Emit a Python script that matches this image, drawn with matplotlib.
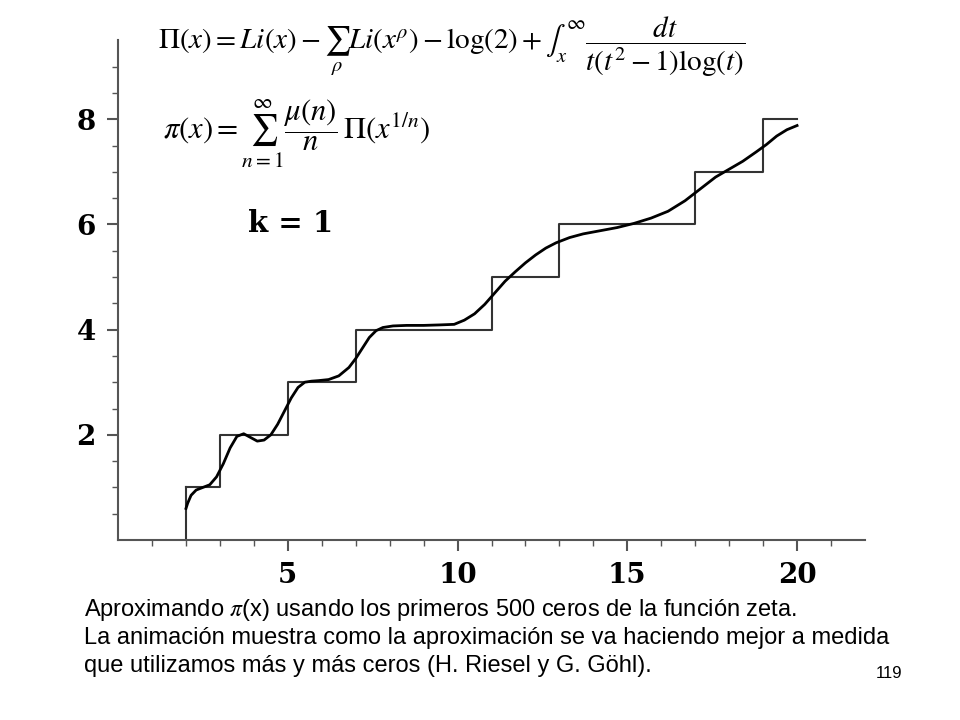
import matplotlib
matplotlib.use("Agg")
import matplotlib.pyplot as plt
import numpy as np
plt.rcParams['mathtext.fontset'] = 'stix'

step_x = [2, 3, 5, 7, 11, 13, 17, 19, 20]
step_y = [1, 2, 3, 4, 5, 6, 7, 8, 8]
curve_x = [2.0, 2.05, 2.15, 2.3, 2.5, 2.7, 2.9, 3.1, 3.3, 3.5, 3.7, 3.9, 4.1, 4.3, 4.5, 4.7, 4.9,
           5.1, 5.3, 5.5, 5.7, 5.9, 6.2, 6.5, 6.8, 7.0, 7.2, 7.4, 7.6, 7.8, 8.1, 8.5, 9.0, 9.5,
           9.9, 10.2, 10.5, 10.8, 11.1, 11.4, 11.7, 12.0, 12.3, 12.6, 12.9, 13.3, 13.7, 14.2,
           14.7, 15.2, 15.7, 16.2, 16.7, 17.2, 17.6, 18.0, 18.4, 18.8, 19.1, 19.4, 19.7, 20.0]
curve_y = [0.6, 0.7, 0.85, 0.95, 1.0, 1.05, 1.2, 1.45, 1.75, 1.97, 2.02, 1.95, 1.88, 1.9, 2.0,
           2.2, 2.45, 2.7, 2.9, 3.0, 3.02, 3.03, 3.05, 3.12, 3.28, 3.45, 3.65, 3.85, 3.98, 4.04,
           4.07, 4.08, 4.08, 4.09, 4.1, 4.18, 4.3, 4.48, 4.7, 4.92, 5.1, 5.27, 5.42, 5.55, 5.65,
           5.75, 5.82, 5.88, 5.94, 6.02, 6.12, 6.25, 6.45, 6.7, 6.9, 7.05, 7.2, 7.38, 7.52, 7.68,
           7.8, 7.88]
xticks = [5, 10, 15, 20]
yticks = [2, 4, 6, 8]
caption_lines = ["Aproximando $\\pi$(x) usando los primeros 500 ceros de la función zeta.",
                 "La animación muestra como la aproximación se va haciendo mejor a medida",
                 "que utilizamos más y más ceros (H. Riesel y G. Göhl)."]

fig = plt.figure(figsize=(9.6, 7.2), dpi=100)
ax = fig.add_axes([0.123, 0.25, 0.778, 0.694])
ax.step(step_x, step_y, where='post', color='#333333', lw=1.5)
ax.plot([2, 2], [0, 1], color='#333333', lw=1.5)
ax.plot(curve_x, curve_y, color='black', lw=2)
ax.set_xlim(0, 22)
ax.set_ylim(0, 9.5)
for s in ['top', 'right']:
    ax.spines[s].set_visible(False)
for s in ['left', 'bottom']:
    ax.spines[s].set_color('#555555')
    ax.spines[s].set_linewidth(1.5)
ax.set_xticks(xticks)
ax.set_yticks(yticks)
ax.set_xticks(np.arange(1, 22, 1), minor=True)
ax.set_yticks(np.arange(0.5, 9.5, 0.5), minor=True)
ax.tick_params(which='major', length=8, width=1.5, color='#555555', labelsize=20, pad=8)
ax.tick_params(which='minor', length=4, width=1, color='#555555')
for lab in ax.get_xticklabels() + ax.get_yticklabels():
    lab.set_fontfamily('DejaVu Serif')
    lab.set_fontweight('bold')

fig.text(0.165, 0.935, r'$\Pi(x) = Li(x) - \sum_{\rho} Li(x^{\rho}) - \log(2) + \int_x^{\infty}\dfrac{dt}{t(t^2-1)\log(t)}$',
         fontsize=21, va='center')
fig.text(0.17, 0.815, r'$\pi(x) = \sum_{n=1}^{\infty}\dfrac{\mu(n)}{n}\,\Pi\left(x^{1/n}\right)$',
         fontsize=22, va='center')
fig.text(0.258, 0.69, 'k = 1', fontsize=21, fontweight='bold', family='DejaVu Serif', va='center')

for i, line in enumerate(caption_lines):
    fig.text(0.087, 1 - (610 + 28 * i) / 720, line, fontsize=17, family='Liberation Sans', va='center')
fig.text(0.94, 1 - 673 / 720, '119', fontsize=12, family='Liberation Sans', ha='right', va='center')
fig.savefig('out.png')
